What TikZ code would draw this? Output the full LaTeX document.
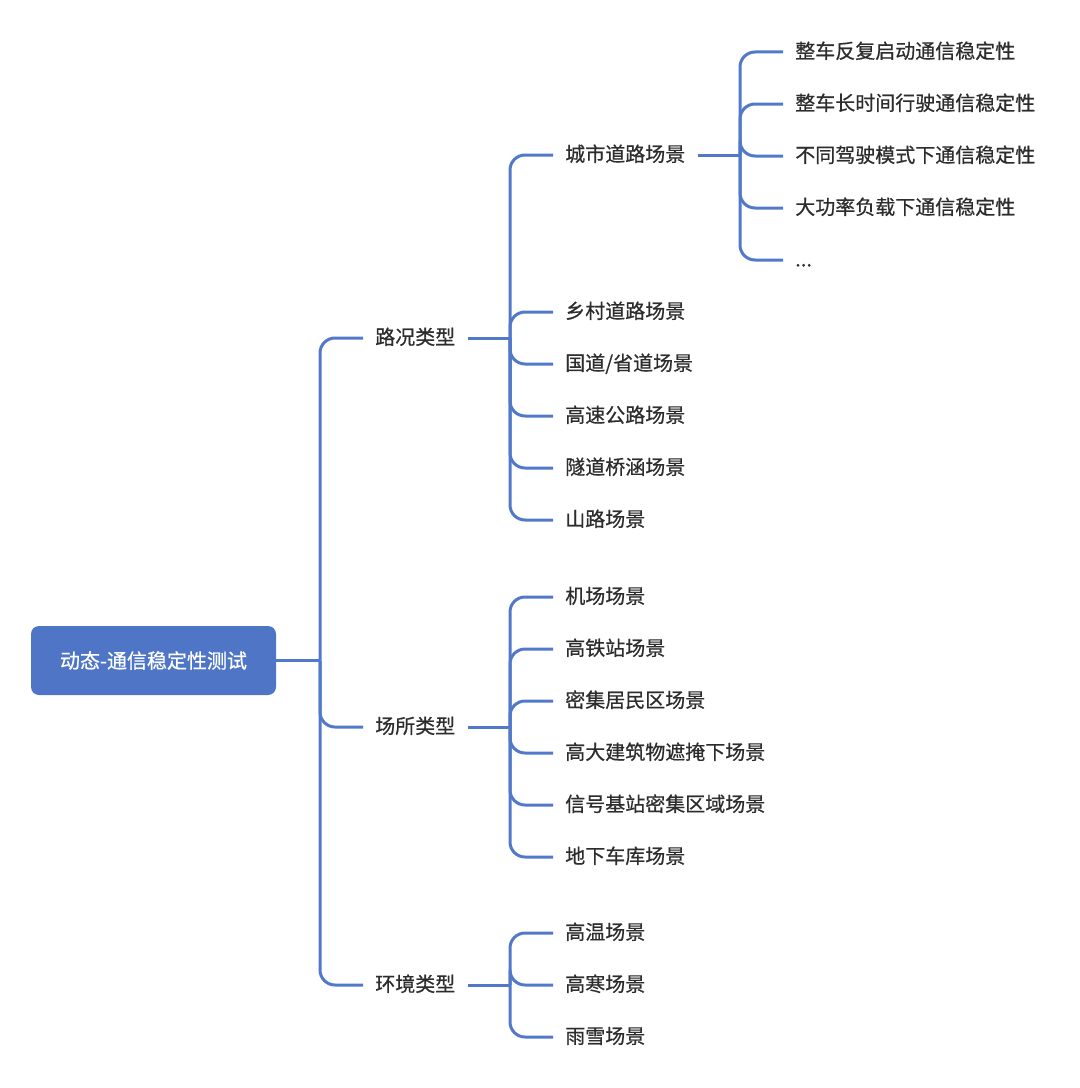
\documentclass[tikz,border=0pt]{standalone}
\usepackage{fontspec}
\setmainfont{Noto Sans CJK SC}[FakeBold=0.6]
\definecolor{lineblue}{RGB}{82,121,201}
\definecolor{rootblue}{RGB}{79,118,198}
\definecolor{txt}{RGB}{45,45,45}
\begin{document}
\begin{tikzpicture}[x=0.75pt,y=-0.75pt,
  leaf/.style={anchor=west,inner xsep=9pt,inner ysep=0pt,text height=0.96em,text depth=0em,font=\fontsize{15pt}{18pt}\selectfont,text=txt},
  conn/.style={draw=lineblue,line width=2.25pt,rounded corners=11.25pt},
  rootbox/.style={fill=rootblue,rounded corners=6pt,minimum width=183.75pt,minimum height=51.75pt,text=white,font=\fontsize{15pt}{18pt}\selectfont,inner sep=0pt}]
\useasboundingbox (0,0) rectangle (1080,1088);
% root
\node[rootbox] (root) at (153.5,660.5) {动态-通信稳定性测试};
% level 1
\node[leaf] (l1) at (363,338) {路况类型};
\node[leaf] (l2) at (363,727) {场所类型};
\node[leaf] (l3) at (363,985) {环境类型};
% road children
\node[leaf] (a1) at (553,155) {城市道路场景};
\node[leaf] (a2) at (553,312) {乡村道路场景};
\node[leaf] (a3) at (553,364) {国道/省道场景};
\node[leaf] (a4) at (553,416) {高速公路场景};
\node[leaf] (a5) at (553,468) {隧道桥涵场景};
\node[leaf] (a6) at (553,520) {山路场景};
% city children
\node[leaf] (c1) at (783,52) {整车反复启动通信稳定性};
\node[leaf] (c2) at (783,104) {整车长时间行驶通信稳定性};
\node[leaf] (c3) at (783,156) {不同驾驶模式下通信稳定性};
\node[leaf] (c4) at (783,208) {大功率负载下通信稳定性};
\node[leaf] (c5) at (783,260) {...};
% place children
\node[leaf] (b1) at (553,597) {机场场景};
\node[leaf] (b2) at (553,649) {高铁站场景};
\node[leaf] (b3) at (553,701) {密集居民区场景};
\node[leaf] (b4) at (553,753) {高大建筑物遮掩下场景};
\node[leaf] (b5) at (553,805) {信号基站密集区域场景};
\node[leaf] (b6) at (553,857) {地下车库场景};
% env children
\node[leaf] (e1) at (553,933) {高温场景};
\node[leaf] (e2) at (553,985) {高寒场景};
\node[leaf] (e3) at (553,1037) {雨雪场景};
% junction coordinates
\coordinate (jr) at (320,660.5);
\coordinate (j1) at (510,338);
\coordinate (j2) at (510,727);
\coordinate (j3) at (510,985);
\coordinate (jc) at (740,155);
% connectors
\draw[conn] (root.east) -- (jr);
\foreach \n in {l1,l2,l3} \draw[conn] (jr) |- (\n.west);
\draw[conn] (l1.east) -- (j1);
\foreach \n in {a1,a2,a3,a4,a5,a6} \draw[conn] (j1) |- (\n.west);
\draw[conn] (l2.east) -- (j2);
\foreach \n in {b1,b2,b3,b4,b5,b6} \draw[conn] (j2) |- (\n.west);
\draw[conn] (l3.east) -- (j3);
\foreach \n in {e1,e2,e3} \draw[conn] (j3) |- (\n.west);
\draw[conn] (a1.east) -- (jc);
\foreach \n in {c1,c2,c3,c4,c5} \draw[conn] (jc) |- (\n.west);
\end{tikzpicture}
\end{document}
